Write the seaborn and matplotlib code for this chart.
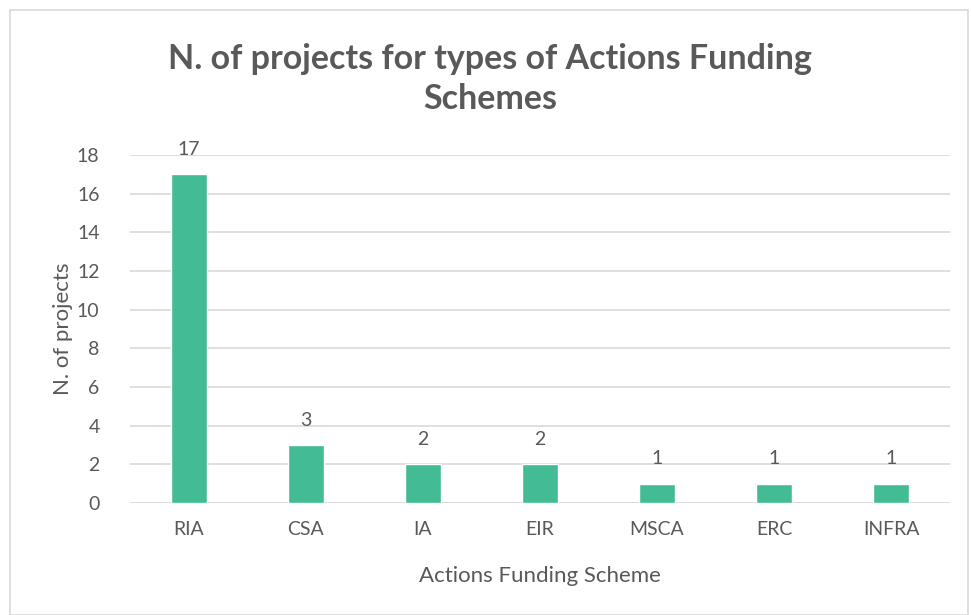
import seaborn as sns
import matplotlib.pyplot as plt
from matplotlib.patches import Rectangle

# data
schemes = ['RIA', 'CSA', 'IA', 'EIR', 'MSCA', 'ERC', 'INFRA']
n_projects = [17, 3, 2, 2, 1, 1, 1]

bar_color = '#43BC96'
text_color = '#595959'
grid_color = '#D9D9D9'

sns.set_style('white')
plt.rcParams['font.family'] = ['Lato', 'DejaVu Sans']

fig = plt.figure(figsize=(9.71, 6.15), dpi=100)
ax = fig.add_axes([0.134, 0.182, 0.844, 0.566])

sns.barplot(x=schemes, y=n_projects, color=bar_color, width=0.31,
            saturation=1, ax=ax, zorder=3)

ax.set_ylim(0, 18)
ax.set_yticks(range(0, 19, 2))
ax.yaxis.grid(True, color=grid_color, linewidth=1.2, zorder=0)
for s in ax.spines.values():
    s.set_visible(False)
ax.axhline(0, color=grid_color, linewidth=1.2, zorder=1)
ax.tick_params(axis='both', length=0, labelsize=14, labelcolor=text_color)
ax.tick_params(axis='x', pad=13)
ax.tick_params(axis='y', pad=22)

for i, v in enumerate(n_projects):
    ax.text(i, v + 0.85, str(v), ha='center', va='bottom',
            fontsize=14, color=text_color)

ax.set_xlabel('Actions Funding Scheme', fontsize=16, color=text_color, labelpad=20)
ax.set_ylabel('N. of projects', fontsize=16, color=text_color, labelpad=3)

fig.text(0.505, 0.872, 'N. of projects for types of Actions Funding\nSchemes',
         ha='center', va='center', fontsize=24.5, fontweight='bold',
         color=text_color, linespacing=1.3)

# chart border
fig.patches.append(Rectangle((10 / 971, 0), 958 / 971, 1 - 10 / 615,
                             transform=fig.transFigure, fill=False,
                             edgecolor=grid_color, linewidth=1.2))

fig.savefig('out.png', dpi=100)
